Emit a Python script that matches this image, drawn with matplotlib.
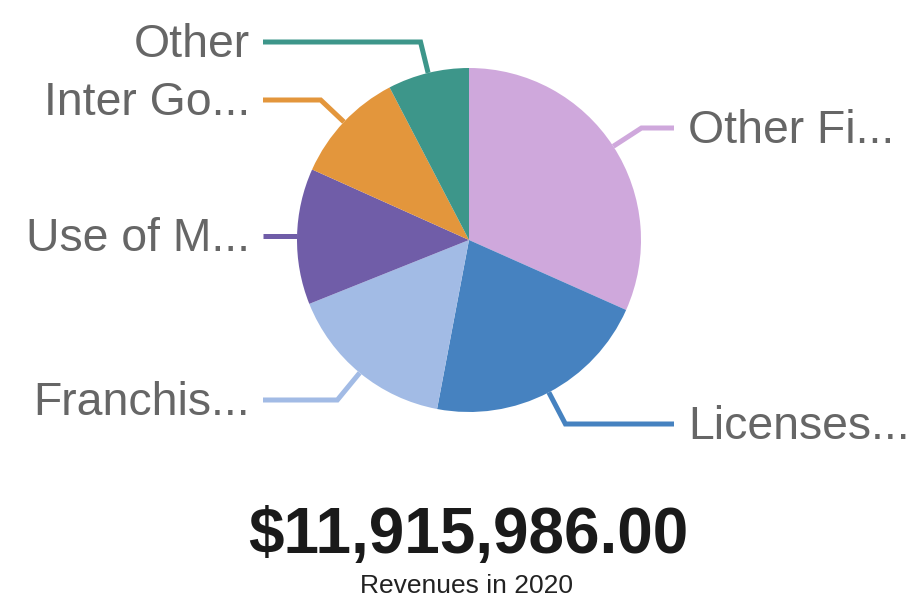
import numpy as np
import matplotlib.pyplot as plt

plt.rcParams['font.family'] = ['Liberation Sans', 'DejaVu Sans']

# Revenue categories (truncated labels as shown) and amounts in dollars
labels = ['Other Fi...', 'Licenses...', 'Franchis...', 'Use of M...', 'Inter Go...', 'Other']
values = [3773395, 2538767, 1903248, 1522598, 1267728, 910250]
colors = ['#CFA8DC', '#4682C0', '#A2BBE5', '#705DA8', '#E3963C', '#3D968A']
year = 2020

W, H = 916, 603
fig = plt.figure(figsize=(W / 100, H / 100), dpi=100)
ax = fig.add_axes([0, 0, 1, 1])

# pie geometry in pixel units (y up)
cx, cy, r = 469, H - 240, 172
wedges, _ = ax.pie(values, colors=colors, startangle=90, counterclock=False,
                   center=(cx, cy), radius=r, wedgeprops=dict(linewidth=0))
ax.set_xlim(0, W)
ax.set_ylim(0, H)
ax.set_aspect('equal')
ax.axis('off')

# label rows (pixel y from top) and leader line ends
label_y = [128, 424, 400, 236.5, 100, 42]
for w, lab, ly, col in zip(wedges, labels, label_y, colors):
    mid = np.deg2rad((w.theta1 + w.theta2) / 2)
    d = np.array([np.cos(mid), np.sin(mid)])
    start = np.array([cx, cy]) + r * d
    y = H - ly
    if abs(d[1]) < 0.05:
        elbow = start.copy()
        y = start[1]
    else:
        t = (y - start[1]) / d[1]
        elbow = start + t * d
    right = d[0] > 0
    x_end = 674 if right else 263
    ax.plot([start[0], elbow[0], x_end], [start[1], elbow[1], y],
            color=col, lw=3.6, solid_joinstyle='miter', solid_capstyle='butt')
    ax.text(688 if right else 250, y - 3, lab, ha='left' if right else 'right',
            va='center', fontsize=33.4, color='#666666')

total = sum(values)
ax.text(468.5, H - 536, f'${total:,.2f}', ha='center', va='center',
        fontsize=46, fontweight='bold', color='#1a1a1a')
ax.text(467, H - 586, f'Revenues in {year}', ha='center', va='center',
        fontsize=19, color='#222222')

fig.savefig('out.png', dpi=100)
